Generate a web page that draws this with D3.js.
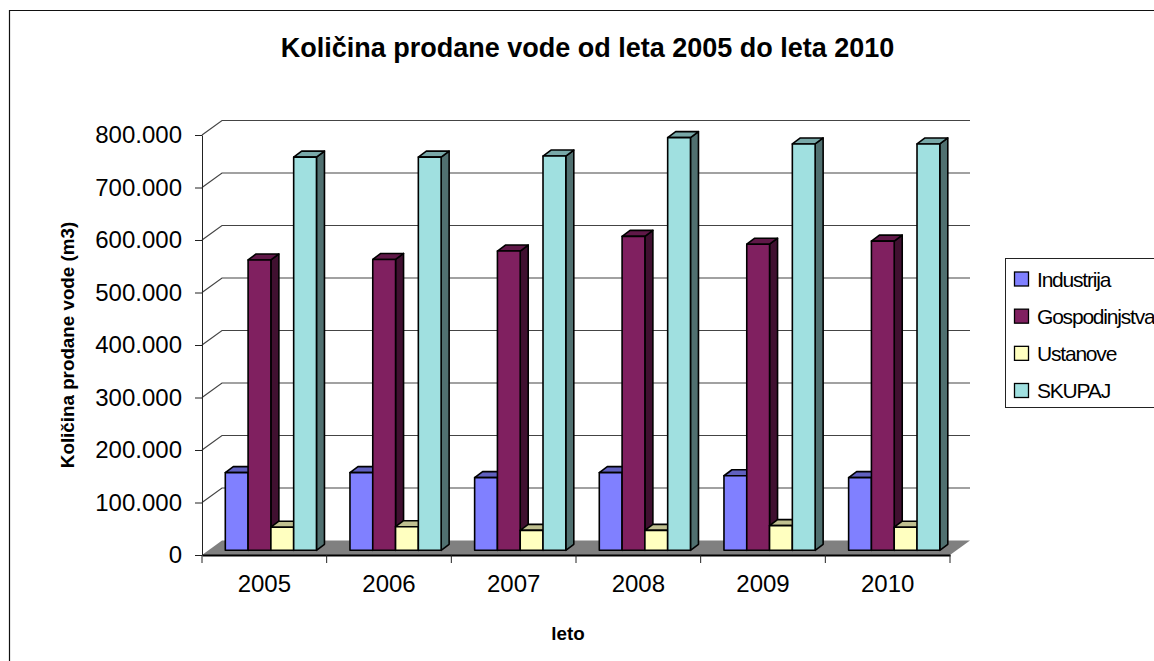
<!DOCTYPE html>
<html>
<head>
<meta charset="utf-8">
<script src="https://cdnjs.cloudflare.com/ajax/libs/d3/7.8.5/d3.min.js"></script>
<style>
body { margin: 0; background: #fff; overflow: hidden; }
text { font-family: "Liberation Sans", Arial, sans-serif; fill: #000; }
</style>
</head>
<body>
<svg width="1154" height="661"></svg>
<script>
// data
var years = ['2005', '2006', '2007', '2008', '2009', '2010'];
var seriesNames = ['Industrija', 'Gospodinjstva', 'Ustanove', 'SKUPAJ'];
var industrija = [148000, 148000, 138500, 148000, 142000, 138500];
var gospodinjstva = [553000, 554000, 570000, 598000, 583000, 589000];
var ustanove = [44000, 45000, 38000, 38000, 47000, 44000];
var skupaj = [749000, 749000, 751000, 786000, 774000, 774000];
var seriesValues = [industrija, gospodinjstva, ustanove, skupaj];
var yTicks = [0, 100000, 200000, 300000, 400000, 500000, 600000, 700000, 800000];

var frontColors = ['#8080ff', '#802060', '#ffffc0', '#a0e0e0'];
var topColors = ['#6060c0', '#601848', '#c0c090', '#78a8a8'];
var sideColors = ['#404080', '#401030', '#808060', '#507070'];

var plotLeft = 202, plotRight = 950, plotTop = 135, plotBottom = 555;
var backDx = 20, backDy = -14.5;   // wall offset
var barDx = 2.6, barDy = -4.7;     // bar front plane inside the floor
var depthDx = 8, depthDy = -6;     // bar depth

var svg = d3.select('svg');

var x = d3.scaleBand().domain(years).range([plotLeft, plotRight]);
var inner = d3.scaleBand().domain(seriesNames)
    .range([20.7, x.bandwidth() - 12.8]);
var y = d3.scaleLinear().domain([0, 800000]).range([plotBottom, plotTop]);

var fmt = d3.formatLocale({ decimal: ',', thousands: '.', grouping: [3], currency: ['', ''] }).format(',d');

// chart frame
svg.append('path')
    .attr('d', 'M9.5,661V10.5H1154')
    .attr('fill', 'none')
    .attr('stroke', '#111')
    .attr('stroke-width', 1.2);

// floor
svg.append('path')
    .attr('d', d3.line()([[plotLeft, plotBottom], [plotLeft + backDx, plotBottom + backDy], [plotRight + backDx, plotBottom + backDy], [plotRight, plotBottom]]) + 'Z')
    .attr('fill', '#808080');

// gridlines along the back wall and the left wall
yTicks.slice(1).forEach(function(d) {
    svg.append('path')
        .attr('d', d3.line()([[plotLeft, y(d)], [plotLeft + backDx, y(d) + backDy], [plotRight + backDx, y(d) + backDy]]))
        .attr('fill', 'none')
        .attr('stroke', '#444')
        .attr('stroke-width', 1.2);
});

// y axis
var yAxis = svg.append('g')
    .attr('transform', 'translate(' + plotLeft + ',0)')
    .call(d3.axisLeft(y).tickValues(yTicks).tickFormat(fmt).tickSize(7).tickSizeOuter(0).tickPadding(13));
yAxis.selectAll('text').style('font-size', '24px');
yAxis.selectAll('path, line').attr('stroke', '#222');

// x axis
var xAxis = svg.append('g')
    .attr('transform', 'translate(0,' + plotBottom + ')')
    .call(d3.axisBottom(x).tickSize(0).tickPadding(20));
xAxis.selectAll('text').style('font-size', '24px');
xAxis.select('path').attr('stroke', '#000').attr('stroke-width', 2);
// category separators
d3.range(years.length + 1).forEach(function(i) {
    var px = plotLeft + i * x.step();
    svg.append('line')
        .attr('x1', px).attr('x2', px)
        .attr('y1', plotBottom).attr('y2', plotBottom + 8)
        .attr('stroke', '#222');
});

// bars, drawn back to front per group so that the neighbours overlap properly
years.forEach(function(year, i) {
    seriesNames.forEach(function(name, s) {
        var v = seriesValues[s][i];
        var x0 = x(year) + inner(name) + barDx;
        var x1 = x0 + inner.bandwidth();
        var y0 = y(v) + barDy;
        var y1 = y(0) + barDy;
        var g = svg.append('g')
            .attr('stroke', '#000')
            .attr('stroke-width', 1.6)
            .attr('stroke-linejoin', 'round');
        g.append('path')
            .attr('d', d3.line()([[x1, y0], [x1 + depthDx, y0 + depthDy], [x1 + depthDx, y1 + depthDy], [x1, y1]]) + 'Z')
            .attr('fill', sideColors[s]);
        g.append('path')
            .attr('d', d3.line()([[x0, y0], [x0 + depthDx, y0 + depthDy], [x1 + depthDx, y0 + depthDy], [x1, y0]]) + 'Z')
            .attr('fill', topColors[s]);
        g.append('rect')
            .attr('x', x0).attr('y', y0)
            .attr('width', x1 - x0).attr('height', y1 - y0)
            .attr('fill', frontColors[s]);
    });
});

// title and axis titles
svg.append('text')
    .attr('x', 587.5).attr('y', 57)
    .attr('text-anchor', 'middle')
    .style('font-size', '27px')
    .style('font-weight', 'bold')
    .text('Količina prodane vode od leta 2005 do leta 2010');

svg.append('text')
    .attr('transform', 'translate(74,345) rotate(-90)')
    .attr('text-anchor', 'middle')
    .style('font-size', '18.8px')
    .style('font-weight', 'bold')
    .text('Količina prodane vode (m3)');

svg.append('text')
    .attr('x', 568).attr('y', 640)
    .attr('text-anchor', 'middle')
    .style('font-size', '18.8px')
    .style('font-weight', 'bold')
    .text('leto');

// legend
var legend = svg.append('g');
legend.append('rect')
    .attr('x', 1005.5).attr('y', 258.5)
    .attr('width', 160).attr('height', 149)
    .attr('fill', '#fff')
    .attr('stroke', '#222');
var legendY = d3.scalePoint().domain(seriesNames).range([279, 390.5]);
seriesNames.forEach(function(name, s) {
    legend.append('rect')
        .attr('x', 1014.5).attr('y', legendY(name) - 7)
        .attr('width', 14).attr('height', 14)
        .attr('fill', frontColors[s])
        .attr('stroke', '#000')
        .attr('stroke-width', 1.3);
    legend.append('text')
        .attr('x', 1037).attr('y', legendY(name) + 7.5)
        .style('font-size', '21px')
        .style('letter-spacing', '-1.2px')
        .text(name);
});
</script>
</body>
</html>
